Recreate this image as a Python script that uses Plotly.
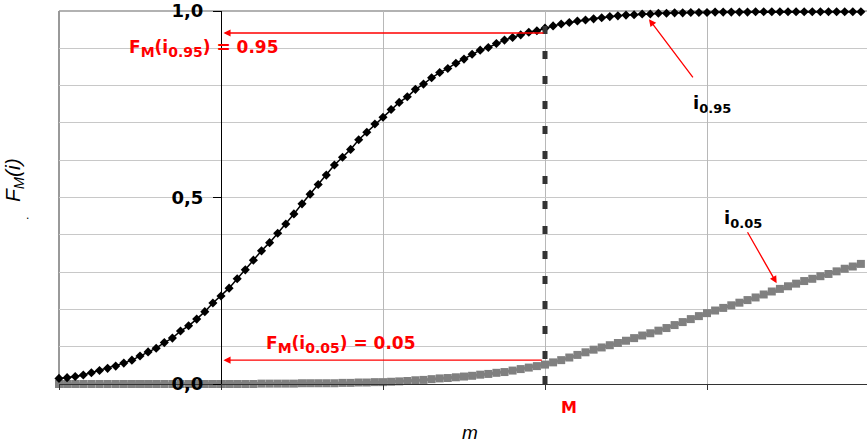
import numpy as np
import plotly.graph_objects as go

# ---- data ----
m_values = np.round(np.arange(100) * 0.05, 2).tolist()

F_i095 = [0.015, 0.017, 0.020, 0.024, 0.030, 0.036, 0.042, 0.048, 0.056, 0.064,
          0.075, 0.086, 0.096, 0.111, 0.123, 0.142, 0.156, 0.174, 0.194, 0.217,
          0.236, 0.257, 0.282, 0.306, 0.332, 0.357, 0.379, 0.404, 0.429, 0.456,
          0.483, 0.509, 0.535, 0.560, 0.587, 0.608, 0.629, 0.655, 0.675, 0.697,
          0.715, 0.736, 0.755, 0.770, 0.790, 0.804, 0.821, 0.835, 0.846, 0.860,
          0.871, 0.884, 0.895, 0.902, 0.913, 0.922, 0.929, 0.936, 0.943, 0.947,
          0.954, 0.960, 0.965, 0.969, 0.973, 0.976, 0.979, 0.982, 0.985, 0.987,
          0.989, 0.990, 0.992, 0.992, 0.994, 0.994, 0.995, 0.995, 0.996, 0.996,
          0.996, 0.997, 0.997, 0.997, 0.997, 0.997, 0.998, 0.998, 0.998, 0.998,
          0.998, 0.998, 0.998, 0.998, 0.998, 0.998, 0.998, 0.998, 0.998, 0.998]

F_i005 = [0.000, 0.000, 0.000, 0.000, 0.000, 0.000, 0.000, 0.000, 0.000, 0.000,
          0.000, 0.000, 0.000, 0.000, 0.000, 0.000, 0.000, 0.000, 0.000, 0.000,
          0.000, 0.000, 0.000, 0.000, 0.000, 0.001, 0.001, 0.001, 0.001, 0.001,
          0.002, 0.002, 0.002, 0.002, 0.002, 0.003, 0.003, 0.004, 0.004, 0.005,
          0.005, 0.006, 0.007, 0.008, 0.010, 0.011, 0.013, 0.015, 0.016, 0.018,
          0.020, 0.022, 0.025, 0.027, 0.030, 0.032, 0.036, 0.040, 0.044, 0.048,
          0.052, 0.058, 0.064, 0.071, 0.078, 0.085, 0.092, 0.098, 0.104, 0.110,
          0.116, 0.123, 0.130, 0.136, 0.143, 0.150, 0.158, 0.166, 0.174, 0.182,
          0.190, 0.197, 0.204, 0.211, 0.218, 0.225, 0.232, 0.240, 0.248, 0.255,
          0.262, 0.269, 0.276, 0.282, 0.289, 0.295, 0.302, 0.309, 0.315, 0.322]

y_tick_vals = [0.0, 0.5, 1.0]
y_tick_text = ["<b>0,0</b>", "<b>0,5</b>", "<b>1,0</b>"]
y_minor_vals = [0.1, 0.2, 0.3, 0.4, 0.6, 0.7, 0.8, 0.9]
x_tick_vals = [0, 1, 2, 3, 4]
M_value = 3.0
F_high = 0.941
F_low = 0.064

RED = "#ff0000"
BOLD_FONT = "DejaVu Sans"


def sub(s, px):
    return "<sub><span style='font-size:%dpx'>%s</span></sub>" % (px, s)


fig = go.Figure()

fig.add_trace(go.Scatter(
    x=m_values, y=F_i005, mode="lines+markers",
    line=dict(color="#808080", width=3),
    marker=dict(symbol="square", size=8, color="#808080"),
    cliponaxis=False, showlegend=False, hoverinfo="skip"))

fig.add_trace(go.Scatter(
    x=m_values, y=F_i095, mode="lines+markers",
    line=dict(color="#000000", width=1.5),
    marker=dict(symbol="diamond", size=7, color="#000000"),
    cliponaxis=False, showlegend=False, hoverinfo="skip"))

# dashed vertical line at M
fig.add_shape(type="line", xref="x", yref="y", x0=M_value, x1=M_value, y0=0, y1=1,
              line=dict(color="#333333", width=5, dash="8px,17px"), layer="above")

# borders (left, top)
fig.add_shape(type="line", xref="paper", yref="paper", x0=0, x1=0, y0=0, y1=1,
              line=dict(color="#999999", width=2), layer="below")
fig.add_shape(type="line", xref="paper", yref="paper", x0=0, x1=1, y0=1, y1=1,
              line=dict(color="#999999", width=1.5), layer="below")

ann = []
# arrows to the y axis
ann.append(dict(x=1.015, y=F_high, ax=M_value, ay=F_high, xref="x", yref="y",
                axref="x", ayref="y", text="", showarrow=True, arrowcolor=RED,
                arrowwidth=1.3, arrowhead=2, arrowsize=1.1))
ann.append(dict(x=1.015, y=F_low, ax=M_value - 0.01, ay=F_low, xref="x", yref="y",
                axref="x", ayref="y", text="", showarrow=True, arrowcolor=RED,
                arrowwidth=1.3, arrowhead=2, arrowsize=1.1))
# arrows from the i labels
ann.append(dict(x=3.642, y=0.978, ax=3.92, ay=0.818, xref="x", yref="y",
                axref="x", ayref="y", text="", showarrow=True, arrowcolor=RED,
                arrowwidth=1.3, arrowhead=2, arrowsize=1.1))
ann.append(dict(x=4.430, y=0.270, ax=4.245, ay=0.411, xref="x", yref="y",
                axref="x", ayref="y", text="", showarrow=True, arrowcolor=RED,
                arrowwidth=1.3, arrowhead=2, arrowsize=1.1))

# texts
ann.append(dict(x=0.892, y=0.90, xref="x", yref="y", showarrow=False,
                text="<b>F" + sub("M", 14) + "(i" + sub("0.95", 14) + ") = 0.95</b>",
                font=dict(family=BOLD_FONT, size=17, color=RED),
                xanchor="center", yanchor="middle"))
ann.append(dict(x=1.738, y=0.105, xref="x", yref="y", showarrow=False,
                text="<b>F" + sub("M", 14) + "(i" + sub("0.05", 14) + ") = 0.05</b>",
                font=dict(family=BOLD_FONT, size=17, color=RED),
                xanchor="center", yanchor="middle"))
ann.append(dict(x=4.031, y=0.752, xref="x", yref="y", showarrow=False,
                text="<b>i" + sub("0.95", 13) + "</b>",
                font=dict(family=BOLD_FONT, size=18, color="#000000"),
                xanchor="center", yanchor="middle"))
ann.append(dict(x=4.225, y=0.442, xref="x", yref="y", showarrow=False,
                text="<b>i" + sub("0.05", 13) + "</b>",
                font=dict(family=BOLD_FONT, size=18, color="#000000"),
                xanchor="center", yanchor="middle"))
ann.append(dict(x=M_value, y=-0.062, xref="x", yref="paper", showarrow=False,
                text="<b>M</b>", xshift=24,
                font=dict(family=BOLD_FONT, size=16, color=RED),
                xanchor="center", yanchor="middle"))
ann.append(dict(x=2.537, y=-0.131, xref="x", yref="paper", showarrow=False,
                text="<i>m</i>",
                font=dict(family="Liberation Sans", size=19, color="#000000"),
                xanchor="center", yanchor="middle"))
ann.append(dict(x=-0.0557, y=0.547, xref="paper", yref="paper", showarrow=False,
                text="<i>F<sub>M</sub>(i)</i>", textangle=-90,
                font=dict(family="Liberation Sans", size=21, color="#000000"),
                xanchor="center", yanchor="middle"))
ann.append(dict(x=-0.0384, y=0.452, xref="paper", yref="paper", showarrow=False,
                text=".", font=dict(family="Liberation Sans", size=12, color="#000000"),
                xanchor="center", yanchor="middle"))

fig.update_layout(
    width=867, height=443,
    margin=dict(l=59, r=0, t=11, b=59),
    paper_bgcolor="white", plot_bgcolor="white",
    showlegend=False,
    annotations=ann,
    xaxis=dict(range=[0, 808 / 162], tickvals=x_tick_vals, showticklabels=False,
               ticks="outside", ticklen=5, tickcolor="#333333",
               showgrid=True, gridcolor="#b8b8b8", gridwidth=1,
               showline=True, linecolor="#333333", linewidth=1,
               zeroline=False, fixedrange=True),
    yaxis=dict(range=[0, 1], tickvals=y_tick_vals, ticktext=y_tick_text,
               anchor="free", position=162 / 808, side="left",
               ticks="outside", ticklen=8, tickcolor="#000000",
               ticklabelstandoff=6,
               tickfont=dict(family=BOLD_FONT, size=18, color="#000000"),
               showgrid=True, gridcolor="#c8c8c8", gridwidth=1,
               minor=dict(tickvals=y_minor_vals, showgrid=True,
                          gridcolor="#c8c8c8", gridwidth=1, ticks=""),
               showline=True, linecolor="#000000", linewidth=1,
               zeroline=False, fixedrange=True),
)

fig.write_html("out.html")
